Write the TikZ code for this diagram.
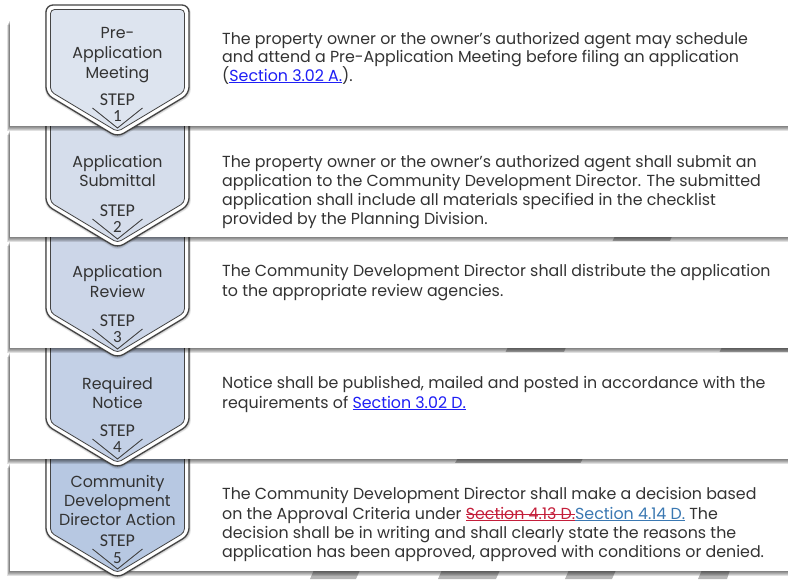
\documentclass[tikz,border=0pt]{standalone}
\usepackage{fontspec}
\setmainfont[FakeStretch=0.99]{Poppins}
\newfontfamily\stepfont{Carlito}
\definecolor{txtgray}{HTML}{333333}
\definecolor{linkblue}{HTML}{1F1FF5}
\definecolor{strikered}{HTML}{C41E3A}
\definecolor{linksteel}{HTML}{3A78B2}
\definecolor{edgegray}{HTML}{454545}
\definecolor{wmgray}{HTML}{B4B4B4}
\definecolor{fillA}{HTML}{DDE4EF}
\definecolor{fillB}{HTML}{D5DDEB}
\definecolor{fillC}{HTML}{CCD6E8}
\definecolor{fillD}{HTML}{C3D0E6}
\definecolor{fillE}{HTML}{B7C8E2}
\newsavebox\myubox
\newcommand{\lnk}[1]{\underline{#1}}
\newcommand{\strikeul}[1]{\sbox\myubox{#1}\rlap{\rule[0.3em]{\wd\myubox}{0.7pt}}\underline{\usebox\myubox}}
\tikzset{
  bodytxt/.style={anchor=base west, inner sep=0pt, text=txtgray, font=\fontsize{16}{19}\selectfont},
  shieldtxt/.style={anchor=base, inner sep=0pt, text=txtgray, font=\fontsize{16}{19}\selectfont},
  steptxt/.style={anchor=base, inner sep=0pt, text=txtgray, font=\stepfont\fontsize{18}{20}\selectfont},
  numtxt/.style={anchor=base, inner sep=0pt, text=txtgray, font=\stepfont\fontsize{17}{20}\selectfont},
  vline/.style={draw=edgegray, line width=0.9pt},
  wm/.style={fill=wmgray},
}
% band: #1 top, #2 bottom
\newcommand{\bandat}[2]{%
  \foreach \k in {1,...,5}{%
    \fill[black, opacity=0.12] ({10-0.6*\k},{#1+\k}) rectangle (800,{#2+\k});
  }
  \fill[white] (10,#1) rectangle (800,#2);
}
% shield: #1 point y, #2 top y, #3 fill colour
\newcommand{\shieldat}[3]{%
  \foreach \k in {1,2,3}{%
    \fill[black, opacity=0.09, rounded corners=6pt]
      ({46-0.3*\k},{#2+0.5*\k}) -- ({189+0.6*\k},{#2+0.5*\k}) -- ({189+0.6*\k},{#1-43+0.6*\k})
      -- (117.5,{#1+0.9*\k}) -- ({46-0.3*\k},{#1-43+0.6*\k}) -- cycle;
  }
  \filldraw[fill=white, draw=edgegray, line width=1.3pt, rounded corners=7pt]
    (46,#2) -- (189,#2) -- (189,{#1-43}) -- (117.5,#1) -- (46,{#1-43}) -- cycle;
  \filldraw[fill=#3, draw=edgegray, line width=0.8pt, rounded corners=4pt]
    (50.5,{#2+4.5}) -- (184.5,{#2+4.5}) -- (184.5,{#1-45.5}) -- (117.5,{#1-5.3}) -- (50.5,{#1-45.5}) -- cycle;
}
\begin{document}
\begin{tikzpicture}[x=1pt,y=-1pt]
\useasboundingbox (0,0) rectangle (788,579);
\fill[white] (0,0) rectangle (788,579);
% faint watermark behind the bands
\fill[wm] (615,236) -- (672,236) -- (668,246) -- (610,246) -- cycle;
\fill[wm] (508,347) -- (566,347) -- (562,357) -- (503,357) -- cycle;
\fill[wm] (722,347) -- (788,347) -- (788,357) -- (717,357) -- cycle;
\fill[wm] (458,458) -- (583,458) -- (578,468) -- (452,468) -- cycle;
\fill[wm] (314,570) -- (360,570) -- (356,579) -- (310,579) -- cycle;
\fill[wm] (442,570) -- (500,570) -- (496,579) -- (438,579) -- cycle;
\fill[wm] (569,570) -- (616,570) -- (612,579) -- (565,579) -- cycle;
\fill[wm] (702,570) -- (730,570) -- (727,579) -- (698,579) -- cycle;

% ---------- step 5 ----------
\bandat{463}{571}
\node[bodytxt] (t5a) at (222,499) {The Community Development Director shall make a decision based};
\node[bodytxt] (t5b) at (222,519) {on the Approval Criteria under \textcolor{strikered}{\strikeul{Section 4.13 D.}}\textcolor{linksteel}{\lnk{Section 4.14 D.}} The};
\node[bodytxt] (t5c) at (222,538) {decision shall be in writing and shall clearly state the reasons the};
\node[bodytxt] (t5d) at (222,557) {application has been approved, approved with conditions or denied.};
\shieldat{578}{446}{fillE}
\node[shieldtxt] (s5a) at (117.5,487.5) {Community};
\node[shieldtxt] (s5b) at (117.5,506.5) {Development};
\node[shieldtxt] (s5c) at (117.5,525.5) {Director Action};
\node[steptxt] (s5s) at (117.5,546) {STEP};
\node[numtxt] (s5n) at (117.5,563) {5};
\draw[vline] (92.5,549) -- (117.5,569) -- (142.5,549);

% ---------- step 4 ----------
\bandat{352}{459}
\node[bodytxt] (t4a) at (222,388) {Notice shall be published, mailed and posted in accordance with the};
\node[bodytxt] (t4b) at (222,408) {requirements of \textcolor{linkblue}{\lnk{Section 3.02 D.}}};
\shieldat{468}{336}{fillD}
\node[shieldtxt] (s4a) at (117.5,389.5) {Required};
\node[shieldtxt] (s4b) at (117.5,408.5) {Notice};
\node[steptxt] (s4s) at (117.5,436) {STEP};
\node[numtxt] (s4n) at (117.5,452) {4};
\draw[vline] (92.5,439) -- (117.5,459) -- (142.5,439);

% ---------- step 3 ----------
\bandat{241}{348}
\node[bodytxt] (t3a) at (222,276) {The Community Development Director shall distribute the application};
\node[bodytxt] (t3b) at (222,296) {to the appropriate review agencies.};
\shieldat{358}{226}{fillC}
\node[shieldtxt] (s3a) at (117.5,277.5) {Application};
\node[shieldtxt] (s3b) at (117.5,297.5) {Review};
\node[steptxt] (s3s) at (117.5,326) {STEP};
\node[numtxt] (s3n) at (117.5,342) {3};
\draw[vline] (92.5,329) -- (117.5,349) -- (142.5,329);

% ---------- step 2 ----------
\bandat{130}{237}
\node[bodytxt] (t2a) at (222,167) {The property owner or the owner’s authorized agent shall submit an};
\node[bodytxt] (t2b) at (222,186) {application to the Community Development Director. The submitted};
\node[bodytxt] (t2c) at (222,205) {application shall include all materials specified in the checklist};
\node[bodytxt] (t2d) at (222,224) {provided by the Planning Division.};
\shieldat{248}{116}{fillB}
\node[shieldtxt] (s2a) at (117.5,167.5) {Application};
\node[shieldtxt] (s2b) at (117.5,186.5) {Submittal};
\node[steptxt] (s2s) at (117.5,216) {STEP};
\node[numtxt] (s2n) at (117.5,232) {2};
\draw[vline] (92.5,219) -- (117.5,239) -- (142.5,219);

% ---------- step 1 ----------
\bandat{20}{126}
\node[bodytxt] (t1a) at (222,44) {The property owner or the owner’s authorized agent may schedule};
\node[bodytxt] (t1b) at (222,62.5) {and attend a Pre-Application Meeting before filing an application};
\node[bodytxt] (t1c) at (222,81) {(\textcolor{linkblue}{\lnk{Section 3.02 A.}}).};
\shieldat{137}{5}{fillA}
\node[shieldtxt] (s1a) at (117.5,38.5) {Pre-};
\node[shieldtxt] (s1b) at (117.5,58.5) {Application};
\node[shieldtxt] (s1c) at (117.5,78.5) {Meeting};
\node[steptxt] (s1s) at (117.5,105) {STEP};
\node[numtxt] (s1n) at (117.5,121) {1};
\draw[vline] (92.5,108) -- (117.5,128) -- (142.5,108);
\end{tikzpicture}
\end{document}
